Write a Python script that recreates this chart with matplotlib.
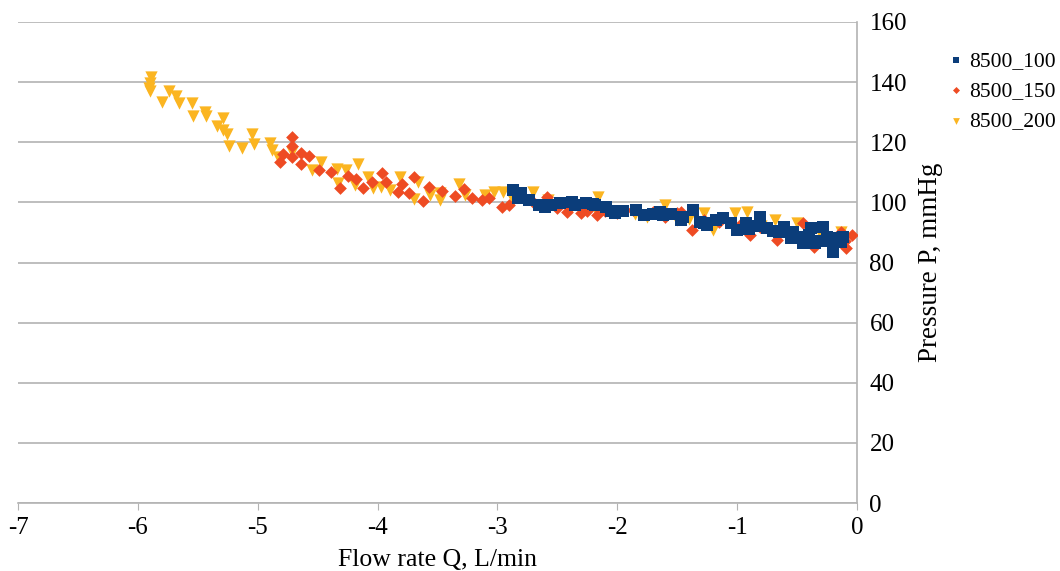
import matplotlib
matplotlib.use("Agg")
import matplotlib.pyplot as plt

plt.rcParams['font.family'] = ['Liberation Serif', 'DejaVu Serif']

# ---- data ----
s100_x = [-2.87, -2.80, -2.74, -2.65, -2.48, -2.38, -2.26, -2.19, -2.09, -2.02, -1.84, -1.78,
          -1.64, -1.62, -1.47, -1.47, -1.37, -1.31, -1.28, -1.18, -1.12, -1.00, -0.93, -0.81,
          -0.75, -0.61, -0.53, -0.45, -0.38, -0.28, -0.25, -0.20, -0.13,
          -0.55, -0.40, -0.30, -0.15, -0.70, -0.90, -1.05, -1.25, -1.45, -1.55, -1.70, -1.95,
          -2.05, -2.20, -2.35, -2.55, -2.83, -2.60, -0.85, -0.65, -0.45, -0.35, -0.22, -0.12]
s100_y = [104.1, 103.0, 100.8, 99.1, 99.7, 100.2, 99.7, 99.1, 98.6, 96.4, 97.5, 95.8,
          96.9, 95.8, 94.7, 94.1, 97.5, 93.6, 93.0, 94.1, 94.7, 90.8, 93.0, 95.2,
          91.4, 91.9, 90.3, 86.4, 91.4, 91.9, 88.6, 83.6, 86.9,
          88.0, 89.0, 87.0, 88.0, 90.5, 91.0, 93.0, 92.5, 95.0, 96.0, 96.0, 97.0,
          97.0, 99.5, 99.0, 99.0, 101.5, 98.5, 92.0, 90.0, 88.5, 86.5, 87.5, 88.5]

s150_x = [-4.71, -4.71, -4.79, -4.81, -4.71, -4.64, -4.57, -4.64, -4.49, -4.39, -4.25, -4.31,
          -4.18, -4.12, -4.05, -3.96, -3.93, -3.83, -3.74, -3.70, -3.62, -3.57, -3.46, -3.35,
          -3.28, -3.21, -3.13, -3.07, -2.96, -2.90, -2.59, -2.42, -2.25, -2.17,
          -1.87, -1.70, -1.50, -1.38, -1.47, -1.28, -0.98, -0.89, -0.81, -0.67, -0.45, -0.36,
          -0.13, -0.04, -0.09,
          -2.00, -1.60, -1.15, -0.55, -0.25, -0.10, -2.70, -3.80, -2.50, -2.30, -2.10]
s150_y = [121.7, 118.8, 116.0, 113.5, 115.0, 116.5, 115.4, 112.7, 110.8, 110.2, 108.8, 104.9,
          107.7, 104.7, 106.9, 109.9, 106.9, 103.6, 103.0, 108.5, 100.6, 105.2, 103.8, 102.1,
          104.4, 101.4, 100.8, 101.4, 98.6, 99.1, 101.7, 96.9, 97.2, 95.8,
          97.5, 96.9, 96.4, 90.8, 96.9, 94.1, 92.4, 89.1, 91.9, 87.5, 93.0, 85.3,
          90.3, 89.2, 84.7,
          96.5, 95.0, 93.5, 89.0, 88.0, 87.0, 100.0, 106.0, 98.0, 96.5, 97.0]

s200_x = [-5.89, -5.90, -5.91, -5.90, -5.80, -5.74, -5.68, -5.66, -5.55, -5.54, -5.44, -5.43,
          -5.29, -5.34, -5.29, -5.26, -5.24, -5.13, -5.05, -5.03, -4.90, -4.88, -4.83, -4.71,
          -4.55, -4.47, -4.34, -4.26, -4.33, -4.16, -4.08, -4.19, -4.04, -3.97, -3.81, -3.66,
          -3.56, -3.48, -3.48, -3.32, -3.27, -3.03, -2.95, -2.87, -2.70, -2.58, -2.39, -2.19,
          -2.16, -1.60, -1.28, -1.20, -1.02, -0.92, -0.68, -0.50, -0.13,
          -1.85, -1.75, -1.50, -1.40, -0.30, -0.80, -2.00, -3.10, -3.70, -3.90]
s200_y = [141.8, 139.7, 138.1, 137.1, 133.5, 137.1, 135.5, 133.2, 133.2, 128.7, 130.1, 128.7,
          128.0, 125.5, 124.1, 122.8, 118.8, 118.2, 122.8, 119.4, 119.7, 117.4, 115.2, 116.9,
          110.8, 113.5, 111.1, 110.8, 106.5, 112.8, 108.5, 105.8, 104.7, 105.2, 108.3, 106.9,
          102.5, 100.8, 103.0, 106.0, 102.5, 103.6, 103.6, 100.8, 103.6, 100.8, 98.0, 98.0,
          101.9, 99.1, 96.4, 90.8, 96.4, 96.9, 94.1, 93.0, 90.3,
          96.0, 95.0, 94.0, 94.5, 89.0, 92.0, 97.0, 102.5, 101.0, 104.0]

labels = ["8500_100", "8500_150", "8500_200"]
x_ticks = [-7, -6, -5, -4, -3, -2, -1, 0]
y_ticks = [0, 20, 40, 60, 80, 100, 120, 140, 160]

fig = plt.figure(figsize=(10.6, 5.71), dpi=100)
ax = fig.add_axes([18/1060, 68/571, 839/1060, 481/571])

ax.scatter(s200_x, s200_y, marker='v', s=78, color='#FBB521', linewidths=0, label=labels[2], zorder=3)
ax.scatter(s150_x, s150_y, marker='D', s=42, color='#EE4B23', linewidths=0, label=labels[1], zorder=4)
ax.scatter(s100_x, s100_y, marker='s', s=68, color='#0B3D7A', linewidths=0, label=labels[0], zorder=5)

ax.set_xlim(-7, 0)
ax.set_ylim(0, 160)
ax.set_xticks(x_ticks)
ax.set_xticklabels([str(t) for t in x_ticks])
ax.set_yticks(y_ticks)
ax.yaxis.tick_right()
ax.yaxis.set_label_position('right')
ax.grid(axis='y', color='#B3B3B3', linewidth=1.2)
ax.set_axisbelow(True)
for side in ['top', 'left']:
    ax.spines[side].set_visible(False)
for side in ['bottom', 'right']:
    ax.spines[side].set_color('#B3B3B3')
    ax.spines[side].set_linewidth(1.2)
ax.tick_params(axis='x', direction='out', length=5, color='#B3B3B3', labelsize=18, pad=5)
ax.tick_params(axis='y', direction='out', length=0, color='#B3B3B3', labelsize=18, pad=9)
ax.set_xlabel("Flow rate Q, L/min", fontsize=18.5, labelpad=7)
ax.set_ylabel("Pressure P, mmHg", fontsize=19.5, labelpad=8)

handles, labs = ax.get_legend_handles_labels()
order = [2, 1, 0]
leg = fig.legend([handles[i] for i in order], [labs[i] for i in order],
                 loc='upper left', bbox_to_anchor=(938/1060, 1 - 42/571), frameon=False,
                 fontsize=15.5, handletextpad=0.15, labelspacing=0.48, markerscale=0.55,
                 handlelength=0.9, borderaxespad=0)

fig.savefig("out.png", dpi=100)
